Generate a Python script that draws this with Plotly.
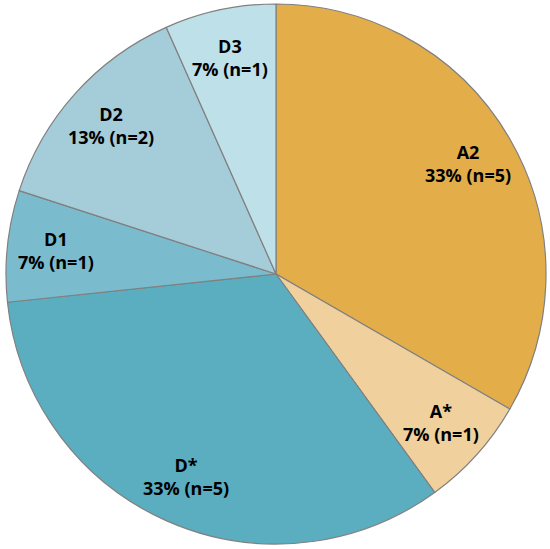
import math
import plotly.graph_objects as go

labels = ["A2", "A*", "D*", "D1", "D2", "D3"]
values = [5, 1, 5, 1, 2, 1]
colors = ["#E3AE4A", "#F0D09C", "#5BAEBF", "#7ABCCE", "#A5CCD9", "#BEE0E8"]

W, H = 550, 549
dom_x = [6 / W, 546 / W]
dom_y = [1 - 544 / H, 1 - 4 / H]

fig = go.Figure(go.Pie(
    labels=labels,
    values=values,
    sort=False,
    direction="clockwise",
    rotation=0,
    marker=dict(colors=colors, line=dict(color="#808080", width=1.2)),
    textinfo="none",
    hoverinfo="label+value+percent",
    domain=dict(x=dom_x, y=dom_y),
    showlegend=False,
))

# label placement derived from the slice geometry (mid-angle of each slice)
total = sum(values)
cx = (dom_x[0] + dom_x[1]) / 2
cy = (dom_y[0] + dom_y[1]) / 2
r_px = min((dom_x[1] - dom_x[0]) * W, (dom_y[1] - dom_y[0]) * H) / 2
frac = 0.82
cum = 0
for lab, v in zip(labels, values):
    theta = 2 * math.pi * (cum + v / 2) / total
    cum += v
    x = cx + frac * r_px * math.sin(theta) / W
    y = cy + frac * r_px * math.cos(theta) / H
    pct = round(100 * v / total)
    fig.add_annotation(
        x=x, y=y, xref="paper", yref="paper",
        xanchor="center", yanchor="middle",
        text=f"<b>{lab}</b><br><b>{pct}% (n={v})</b>",
        showarrow=False, align="center",
        font=dict(family="Open Sans", size=18, color="black"),
    )

fig.update_layout(
    width=W, height=H,
    margin=dict(l=0, r=0, t=0, b=0),
    paper_bgcolor="white",
)
fig.write_html("out.html", config={"displayModeBar": False},
               post_script="document.body.style.margin='0';")
